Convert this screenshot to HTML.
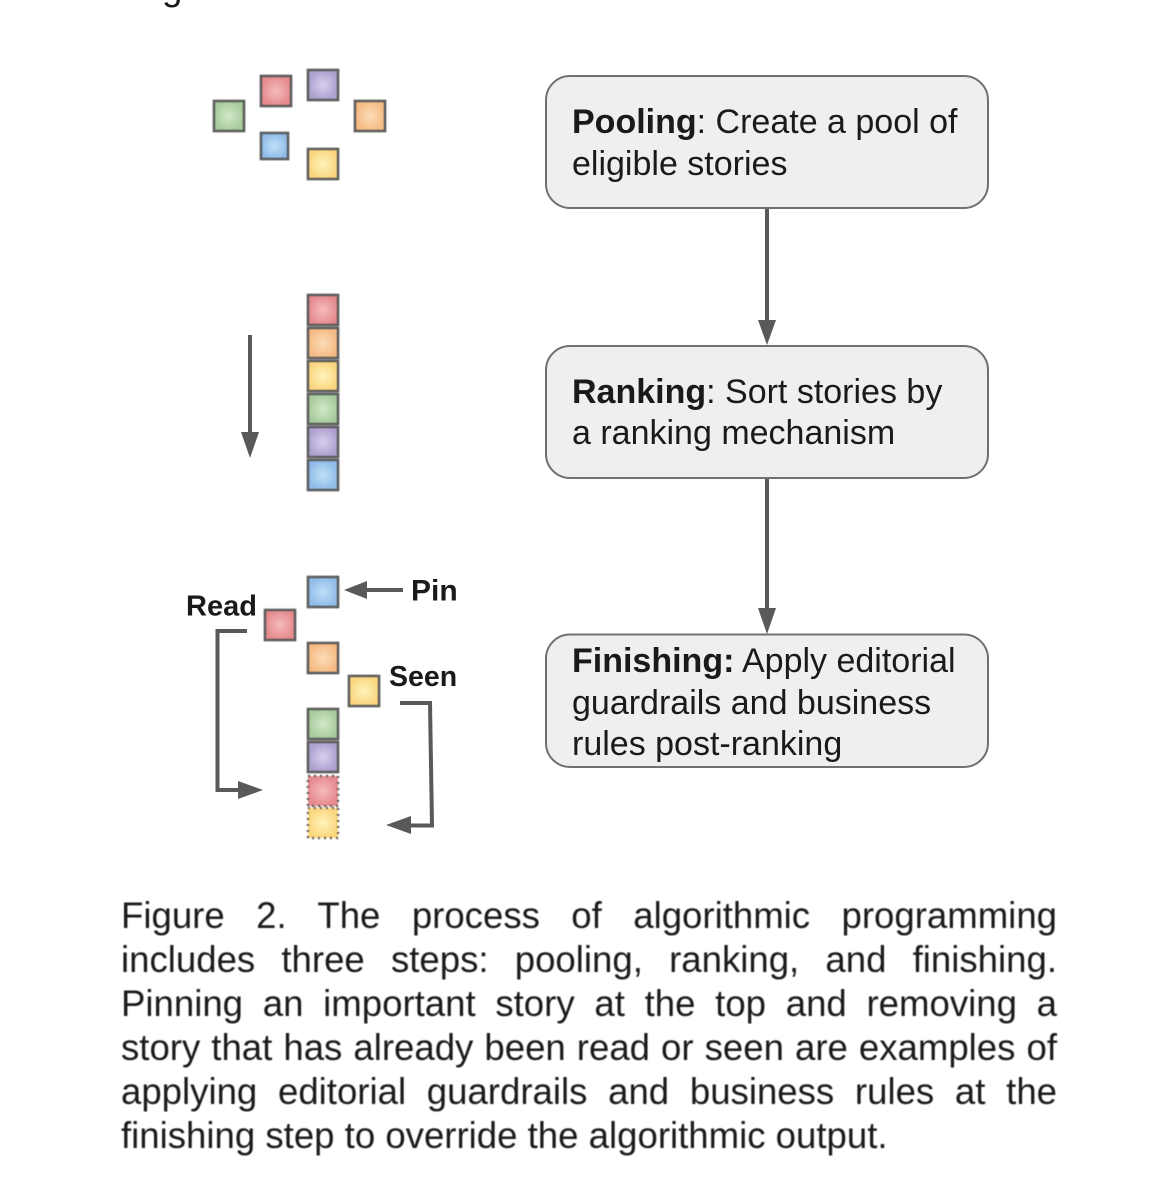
<!DOCTYPE html>
<html><head><meta charset="utf-8"><style>
html,body{margin:0;padding:0;background:#fff}
body{width:1160px;height:1200px;position:relative;overflow:hidden;font-family:"Liberation Sans",sans-serif;color:#111}
svg{position:absolute;left:0;top:0}
.cap{position:absolute;left:121px;width:936px;font-size:36.6px;line-height:44px;height:44px;white-space:nowrap;text-align:justify;text-align-last:justify;color:#1a1a1a;filter:blur(.4px)}
.last{text-align-last:left}
</style></head><body>
<svg width="1160" height="1200" viewBox="0 0 1160 1200" font-family="Liberation Sans, sans-serif">
<defs>
<radialGradient id="r"><stop offset="0" stop-color="#f6bcbc"/><stop offset="1" stop-color="#e58a8e"/></radialGradient>
<radialGradient id="g"><stop offset="0" stop-color="#d2e8c8"/><stop offset="1" stop-color="#a6cb9d"/></radialGradient>
<radialGradient id="p"><stop offset="0" stop-color="#d9d0ec"/><stop offset="1" stop-color="#aea0d0"/></radialGradient>
<radialGradient id="o"><stop offset="0" stop-color="#fcdcb6"/><stop offset="1" stop-color="#f5bb85"/></radialGradient>
<radialGradient id="b"><stop offset="0" stop-color="#c2e0f9"/><stop offset="1" stop-color="#8fbce8"/></radialGradient>
<radialGradient id="y"><stop offset="0" stop-color="#fff2bc"/><stop offset="1" stop-color="#fbd77f"/></radialGradient>
<filter id="s"><feGaussianBlur stdDeviation=".5"/></filter>
</defs>
<text x="162" y="0" font-size="36.6" fill="#1a1a1a">g</text>
<g filter="url(#s)" stroke="#5a5a5a" stroke-width="2.6">
<rect x="214" y="101" width="30" height="30" fill="url(#g)"/>
<rect x="261" y="76" width="30" height="30" fill="url(#r)"/>
<rect x="308" y="70" width="30" height="30" fill="url(#p)"/>
<rect x="355" y="101" width="30" height="30" fill="url(#o)"/>
<rect x="261" y="133" width="27" height="26" fill="url(#b)"/>
<rect x="308" y="149" width="30" height="30" fill="url(#y)"/>
<rect x="308" y="295" width="30" height="30" fill="url(#r)"/>
<rect x="308" y="328" width="30" height="30" fill="url(#o)"/>
<rect x="308" y="361" width="30" height="30" fill="url(#y)"/>
<rect x="308" y="394" width="30" height="30" fill="url(#g)"/>
<rect x="308" y="427" width="30" height="30" fill="url(#p)"/>
<rect x="308" y="460" width="30" height="30" fill="url(#b)"/>
<rect x="308" y="577" width="30" height="30" fill="url(#b)"/>
<rect x="265" y="610" width="30" height="30" fill="url(#r)"/>
<rect x="308" y="643" width="30" height="30" fill="url(#o)"/>
<rect x="349" y="676" width="30" height="30" fill="url(#y)"/>
<rect x="308" y="709" width="30" height="30" fill="url(#g)"/>
<rect x="308" y="742" width="30" height="30" fill="url(#p)"/>
<rect x="308" y="776" width="30" height="30" fill="url(#r)" stroke-dasharray="2 4"/>
<rect x="308" y="808" width="30" height="30" fill="url(#y)" stroke-dasharray="2 4"/>
</g>
<g fill="#efefef" stroke="#707070" stroke-width="2">
<rect x="546" y="76" width="442" height="132" rx="24"/>
<rect x="546" y="346" width="442" height="132" rx="24"/>
<rect x="546" y="634.500" width="442" height="132.500" rx="24"/>
</g>
<g stroke="#595959" stroke-width="4" fill="none">
<path d="M767 209V322M767 479V610M250 335V434M403 590H366M247 631H217.500V790H240M400 703H430L432 825.500H410"/>
</g>
<g fill="#595959">
<path d="M758 320H776L767 345ZM758 608H776L767 634ZM241 432H259L250 458ZM367 581V599L344 590ZM238 781V799L263 790ZM411 816V834L386 825Z"/>
</g>
<g font-size="34" fill="#1a1a1a" style="filter:blur(.35px)">
<text x="572" y="133"><tspan font-weight="bold">Pooling</tspan>: Create a pool of</text>
<text x="572" y="175">eligible stories</text>
<text x="572" y="403"><tspan font-weight="bold">Ranking</tspan>: Sort stories by</text>
<text x="572" y="444">a ranking mechanism</text>
<text x="572" y="672"><tspan font-weight="bold">Finishing:</tspan> Apply editorial</text>
<text x="572" y="714">guardrails and business</text>
<text x="572" y="755">rules post-ranking</text>
</g>
<g font-weight="bold" fill="#1a1a1a">
<text x="186" y="615.500" font-size="29">Read</text>
<text x="411" y="600.500" font-size="30">Pin</text>
<text x="389" y="686" font-size="28.500">Seen</text>
</g>
</svg>
<div class="cap" style="top:894px">Figure 2. The process of algorithmic programming</div>
<div class="cap" style="top:938px">includes three steps: pooling, ranking, and finishing.</div>
<div class="cap" style="top:982px">Pinning an important story at the top and removing a</div>
<div class="cap" style="top:1026px">story that has already been read or seen are examples of</div>
<div class="cap" style="top:1070px">applying editorial guardrails and business rules at the</div>
<div class="cap last" style="top:1114px">finishing step to override the algorithmic output.</div>
</body></html>
